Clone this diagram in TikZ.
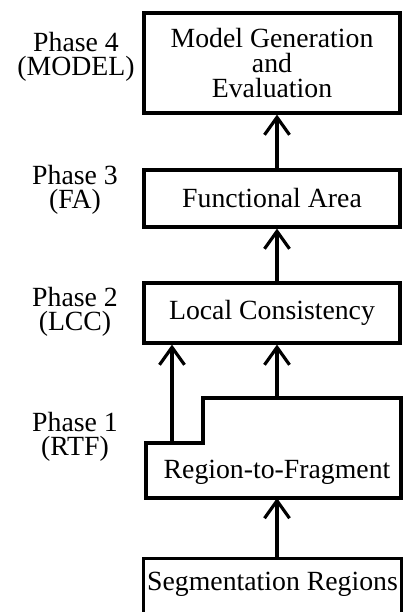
\documentclass[tikz,border=0pt]{standalone}
\usepackage{fontspec}
\setmainfont{Liberation Serif}
\usetikzlibrary{positioning, arrows.meta, calc}

\begin{document}
\begin{tikzpicture}[x=0.02cm, y=-0.02cm,
  phasebox/.style={draw, line width=1.8pt, minimum width=5.12cm, inner sep=2pt, align=center, font=\fontsize{15.8}{14}\selectfont},
  phaselabel/.style={align=center, inner sep=0pt, font=\fontsize{15.8}{14}\selectfont},
  arrow/.style={-{Straight Barb[length=0.35cm, width=0.5cm]}, line width=1.8pt}
]
  \clip (0,0) rectangle (405,612);
  \coordinate (spine) at (277,0);

  \node[phasebox, minimum height=2cm] (model) at (272,63) {Model Generation\\and\\Evaluation};
  \node[phasebox, minimum height=1.14cm] (fa) at (272,198.5) {Functional Area};
  \node[phasebox, minimum height=1.2cm] (lcc) at (272,313) {Local Consistency};

  % stepped outline of phase 1
  \draw[line width=1.8pt] (146,498) -- (146,443) -- (203,443) -- (203,398) -- (401,398) -- (401,498) -- cycle;
  \node[phaselabel] (rtf) at (277,472) {Region-to-Fragment};
  \coordinate (rtflow) at (172,443);
  \coordinate (rtfhigh) at (277,398);
  \coordinate (rtfbase) at (277,498);

  \node[phasebox, anchor=north, text height=0.54cm, text depth=1cm, inner ysep=0.1cm, minimum width=5.1cm] (seg) at (272.5,557) {Segmentation Regions};

  \node[phaselabel] (p4) at (76,57) {Phase 4\\(MODEL)};
  \node[phaselabel] (p3) at (75,190) {Phase 3\\(FA)};
  \node[phaselabel] (p2) at (75,312) {Phase 2\\(LCC)};
  \node[phaselabel] (p1) at (75,437) {Phase 1\\(RTF)};

  \draw[arrow] (seg.north -| spine) -- (rtfbase);
  \draw[arrow] (rtfhigh) -- (lcc.south -| spine);
  \draw[arrow] (rtflow) -- (lcc.south -| rtflow);
  \draw[arrow] (lcc.north -| spine) -- (fa.south -| spine);
  \draw[arrow] (fa.north -| spine) -- (model.south -| spine);
\end{tikzpicture}
\end{document}
